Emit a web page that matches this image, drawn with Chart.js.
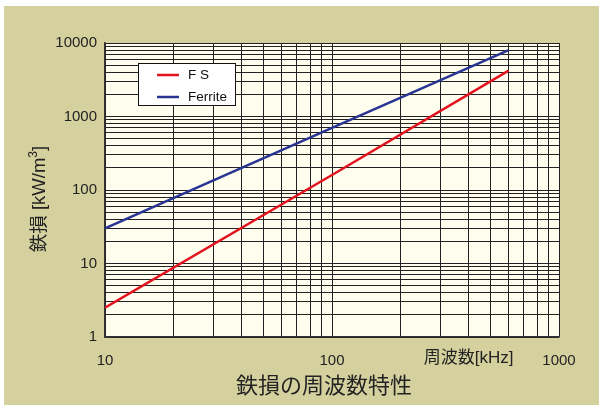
<!DOCTYPE html>
<html>
<head>
<meta charset="utf-8">
<script src="https://cdn.jsdelivr.net/npm/chart.js@4"></script>
<style>
  html, body { margin: 0; padding: 0; background: #ffffff; }
  #wrap { position: absolute; left: 4px; top: 6px; width: 595px; height: 399px; background: #d5d19f; }
  canvas { display: block; }
</style>
</head>
<body>
<div id="wrap"><canvas id="chart" width="595" height="399"></canvas></div>
<script>
// frequency [kHz] and iron loss [kW/m3]
const freq = [10, 100, 600];
const fsLoss = [2.5, 160, 4200];
const ferriteLoss = [30, 700, 8000];

const seriesNames = ["F S", "Ferrite"];
const seriesColors = ["#e3121f", "#283593"];

const xTickLabels = [10, 100, 1000];
const yTickLabels = [1, 10, 100, 1000, 10000];

// y title: text, superscript, closing bracket
const yTitleParts = ["鉄損 [kW/m", "3", "]"];
const xUnit = "周波数[kHz]";
const chartTitle = "鉄損の周波数特性";

const latin = "'Liberation Sans', Arial, 'Noto Sans CJK JP', sans-serif";

// grid lines at 1..9 of every decade between the first and last label
function logGrid(labels) {
  const out = [];
  for (let i = 0; i < labels.length - 1; i++) {
    for (let m = 1; m < 10; m++) out.push({ value: labels[i] * m });
  }
  out.push({ value: labels[labels.length - 1] });
  return out;
}

const textPlugin = {
  id: "texts",
  afterDraw(chart) {
    const ctx = chart.ctx;
    const area = chart.chartArea;
    ctx.save();
    ctx.fillStyle = "#222";
    ctx.textAlign = "center";
    ctx.textBaseline = "middle";

    // y axis title with a raised "3"
    ctx.save();
    ctx.translate(36, 193);
    ctx.rotate(-Math.PI / 2);
    ctx.textAlign = "left";
    const big = "18.5px " + latin, small = "12px " + latin;
    ctx.font = big;
    const w0 = ctx.measureText(yTitleParts[0]).width;
    const w2 = ctx.measureText(yTitleParts[2]).width;
    ctx.font = small;
    const w1 = ctx.measureText(yTitleParts[1]).width;
    let tx = -(w0 + w1 + w2) / 2;
    ctx.font = big;
    ctx.fillText(yTitleParts[0], tx, 0);
    tx += w0;
    ctx.font = small;
    ctx.fillText(yTitleParts[1], tx, -6);
    tx += w1;
    ctx.font = big;
    ctx.fillText(yTitleParts[2], tx, 0);
    ctx.restore();

    // unit label beside the x ticks
    ctx.font = "17px " + latin;
    ctx.fillText(xUnit, chart.scales.x.getPixelForValue(400), 352);

    // bottom title
    ctx.font = "22px " + latin;
    ctx.fillText(chartTitle, 320, 381);

    // legend box
    const bx = area.left + 33, by = area.top + 20;
    ctx.fillStyle = "#ffffff";
    ctx.fillRect(bx, by, 97, 42);
    ctx.strokeStyle = "#111";
    ctx.lineWidth = 1;
    ctx.strokeRect(bx + 0.5, by + 0.5, 97, 42);
    ctx.font = "13.5px " + latin;
    ctx.textAlign = "left";
    chart.data.datasets.forEach((ds, i) => {
      const ly = by + 12 + i * 22;
      ctx.strokeStyle = ds.borderColor;
      ctx.lineWidth = 2.5;
      ctx.beginPath();
      ctx.moveTo(bx + 19, ly);
      ctx.lineTo(bx + 41, ly);
      ctx.stroke();
      ctx.fillStyle = "#111";
      ctx.fillText(ds.label, bx + 50, ly);
    });
    ctx.restore();
  }
};

const plotBg = {
  id: "plotBg",
  beforeDraw(chart) {
    const { ctx, chartArea: a } = chart;
    ctx.save();
    ctx.fillStyle = "#fffdee";
    ctx.fillRect(a.left, a.top, a.right - a.left, a.bottom - a.top);
    ctx.restore();
  }
};

new Chart(document.getElementById("chart"), {
  type: "line",
  data: {
    datasets: [
      {
        label: seriesNames[0],
        data: freq.map((f, i) => ({ x: f, y: fsLoss[i] })),
        borderColor: seriesColors[0],
        borderWidth: 2.5,
        pointRadius: 0,
      },
      {
        label: seriesNames[1],
        data: freq.map((f, i) => ({ x: f, y: ferriteLoss[i] })),
        borderColor: seriesColors[1],
        borderWidth: 2.5,
        pointRadius: 0,
      },
    ],
  },
  options: {
    responsive: false,
    animation: false,
    layout: { padding: { top: 37, right: 40, bottom: 0, left: 0 } },
    plugins: {
      legend: { display: false },
      tooltip: { enabled: false },
    },
    scales: {
      x: {
        type: "logarithmic",
        min: 10,
        max: 1000,
        afterBuildTicks: (scale) => { scale.ticks = logGrid(xTickLabels); },
        afterFit: (scale) => { scale.height = 68; },
        grid: { color: "#222", lineWidth: 1, drawTicks: false },
        border: { color: "#333", width: 1.5 },
        ticks: {
          autoSkip: false,
          maxRotation: 0,
          padding: 15,
          color: "#222",
          font: { family: latin, size: 15 },
          callback: (v) => (xTickLabels.includes(v) ? String(v) : ""),
        },
      },
      y: {
        type: "logarithmic",
        min: 1,
        max: 10000,
        afterBuildTicks: (scale) => { scale.ticks = logGrid(yTickLabels); },
        afterFit: (scale) => { scale.width = 101; },
        grid: { color: "#222", lineWidth: 1, drawTicks: false },
        border: { color: "#333", width: 1.5 },
        ticks: {
          autoSkip: false,
          padding: 8,
          color: "#222",
          font: { family: latin, size: 15 },
          callback: (v) => (yTickLabels.includes(v) ? String(v) : ""),
        },
      },
    },
  },
  plugins: [plotBg, textPlugin],
});
</script>
</body>
</html>
